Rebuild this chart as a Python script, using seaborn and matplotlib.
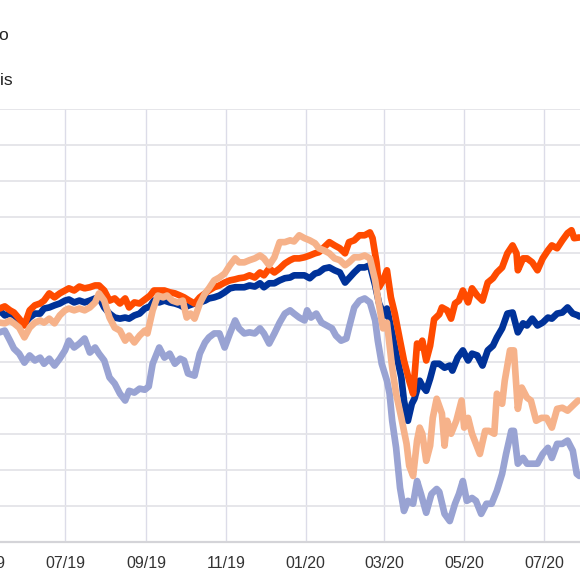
import matplotlib
matplotlib.use("Agg")
import matplotlib.pyplot as plt
import matplotlib.dates as mdates
import seaborn as sns
import pandas as pd
import numpy as np

# ---- data (index level; days counted from 2019-05-12) ----
start_date = "2019-05-12"

red_days = [0, 4, 8, 11, 15, 19, 23, 27, 31, 34, 38, 42, 46, 50, 53, 57, 61, 65, 69, 73, 76, 80, 84, 88, 92, 96, 99, 103, 107, 111, 115, 118, 122, 126, 130, 134, 138, 141, 145, 149, 153, 157, 160, 164, 168, 172, 176, 180, 183, 187, 191, 195, 199, 202, 206, 210, 214, 218, 222, 225, 229, 233, 237, 241, 244, 248, 252, 256, 260, 264, 267, 271, 275, 279, 283, 285, 288, 290, 293, 296, 299, 302, 306, 309, 313, 316, 319, 321, 323, 326, 329, 332, 336, 338, 342, 345, 348, 351, 354, 358, 361, 365, 369, 373, 377, 380, 384, 388, 392, 395, 396, 400, 403, 407, 411, 415, 419, 422, 426, 430, 434, 437, 439, 443]
red_vals = [104.7, 105.3, 104.2, 103.6, 101.9, 100.0, 104.2, 105.6, 106.1, 106.9, 108.9, 107.8, 108.9, 109.7, 110.3, 109.7, 110.8, 110.3, 110.6, 111.1, 111.1, 109.7, 106.9, 107.5, 106.1, 107.5, 105.0, 106.4, 106.1, 107.2, 108.3, 109.7, 109.7, 109.7, 109.2, 108.9, 108.3, 107.8, 106.9, 106.1, 107.8, 108.9, 109.7, 110.6, 111.1, 111.9, 112.5, 112.8, 113.1, 113.3, 113.9, 113.3, 114.7, 113.9, 115.8, 114.7, 115.8, 117.2, 118.1, 118.6, 118.6, 118.9, 119.4, 120.0, 120.3, 121.7, 123.1, 122.2, 121.4, 120.0, 123.1, 123.6, 125.0, 125.0, 125.8, 124.2, 117.5, 110.6, 112.5, 115.3, 107.8, 103.3, 95.8, 90.3, 84.7, 81.1, 95.0, 93.9, 95.8, 90.3, 94.4, 101.7, 103.1, 105.0, 104.2, 101.9, 106.1, 106.9, 109.7, 106.4, 110.3, 108.3, 106.9, 111.9, 113.1, 114.7, 116.1, 120.0, 122.2, 120.0, 115.3, 118.6, 118.6, 117.5, 115.3, 118.6, 120.8, 122.2, 121.4, 123.6, 125.6, 126.4, 124.2, 124.4]

blue_days = [0, 4, 8, 11, 15, 19, 23, 27, 31, 34, 38, 42, 46, 50, 53, 57, 61, 65, 69, 73, 76, 80, 84, 88, 92, 96, 99, 103, 107, 111, 115, 118, 122, 126, 130, 134, 138, 141, 145, 149, 153, 157, 160, 164, 168, 172, 176, 180, 183, 187, 191, 195, 199, 202, 206, 210, 214, 218, 222, 225, 229, 233, 237, 241, 244, 248, 252, 256, 260, 264, 267, 271, 275, 279, 283, 287, 290, 294, 296, 300, 303, 307, 309, 312, 315, 317, 321, 323, 326, 329, 332, 336, 340, 344, 346, 350, 354, 358, 361, 365, 369, 373, 377, 380, 384, 388, 392, 396, 400, 403, 407, 411, 415, 419, 422, 426, 430, 434, 438, 442, 443]
blue_vals = [104.2, 102.8, 103.3, 102.8, 101.4, 100.6, 102.2, 103.3, 103.3, 104.7, 105.0, 105.6, 106.1, 106.9, 107.2, 106.4, 106.9, 106.4, 106.9, 107.5, 107.8, 105.0, 103.3, 102.2, 101.9, 102.2, 101.9, 102.8, 103.3, 104.7, 105.3, 106.9, 106.4, 106.9, 106.4, 106.1, 105.6, 105.0, 105.6, 106.1, 106.4, 106.9, 107.5, 107.8, 108.3, 109.2, 110.3, 110.6, 110.6, 110.6, 111.1, 110.8, 111.7, 110.6, 111.7, 111.7, 112.5, 113.1, 113.3, 113.9, 113.9, 113.9, 113.1, 114.4, 114.7, 115.8, 116.1, 115.3, 114.7, 111.9, 113.1, 114.7, 116.1, 116.1, 116.7, 111.1, 106.1, 102.8, 104.7, 97.8, 92.2, 85.6, 79.2, 73.6, 78.3, 79.7, 84.7, 83.3, 81.9, 85.3, 89.4, 89.4, 88.3, 88.9, 87.5, 91.1, 93.1, 90.3, 92.2, 91.7, 88.9, 93.1, 94.4, 96.7, 99.2, 103.3, 103.6, 98.1, 100.6, 100.0, 101.9, 100.0, 100.8, 102.2, 101.9, 103.3, 103.6, 105.0, 103.3, 102.8, 102.5]

peach_days = [0, 4, 8, 11, 15, 19, 23, 27, 31, 34, 38, 42, 46, 50, 53, 57, 61, 65, 69, 73, 76, 80, 84, 88, 92, 96, 99, 103, 107, 111, 113, 117, 121, 125, 128, 132, 136, 140, 143, 146, 149, 153, 157, 160, 164, 168, 172, 176, 180, 183, 187, 191, 195, 199, 202, 206, 210, 214, 218, 222, 225, 229, 233, 237, 241, 244, 248, 252, 256, 260, 264, 267, 271, 275, 279, 283, 287, 289, 293, 296, 300, 303, 307, 311, 313, 316, 319, 321, 323, 326, 329, 331, 334, 338, 340, 342, 345, 349, 353, 355, 358, 361, 367, 371, 374, 378, 380, 384, 386, 390, 393, 396, 399, 403, 406, 410, 414, 418, 422, 426, 430, 434, 438, 442]
peach_vals = [100.8, 100.6, 101.4, 100.6, 99.4, 96.7, 99.4, 100.8, 101.4, 100.8, 101.9, 100.6, 102.8, 104.2, 104.7, 104.2, 104.7, 104.2, 105.0, 106.4, 108.9, 106.9, 102.2, 99.4, 98.6, 95.8, 97.2, 95.3, 97.2, 98.6, 97.8, 104.2, 108.3, 107.8, 108.3, 106.9, 106.4, 106.9, 102.2, 103.3, 101.9, 106.1, 108.9, 110.3, 112.5, 113.3, 114.4, 116.7, 118.6, 117.5, 117.5, 118.1, 118.6, 119.4, 118.6, 116.7, 118.9, 123.1, 123.1, 123.6, 123.3, 125.0, 124.2, 123.6, 122.8, 121.4, 120.8, 120.0, 118.6, 118.1, 116.7, 117.5, 118.9, 118.9, 119.4, 118.6, 112.5, 107.8, 99.2, 100.8, 88.3, 81.1, 74.4, 67.2, 61.1, 58.3, 68.1, 71.7, 70.0, 62.5, 66.7, 74.4, 79.7, 75.6, 66.7, 73.6, 70.0, 73.6, 79.2, 71.7, 74.4, 70.0, 64.4, 70.8, 70.8, 70.0, 81.1, 78.3, 84.7, 93.1, 93.1, 76.9, 82.8, 80.0, 79.2, 73.6, 74.4, 74.4, 71.7, 76.9, 77.2, 76.4, 77.8, 79.2]

lilac_days = [0, 4, 8, 11, 15, 19, 23, 27, 31, 34, 38, 42, 46, 50, 53, 57, 61, 65, 69, 73, 76, 80, 84, 88, 92, 96, 99, 103, 107, 111, 114, 117, 122, 126, 130, 134, 138, 141, 144, 149, 153, 157, 160, 164, 168, 172, 176, 180, 183, 187, 191, 195, 199, 202, 206, 210, 214, 218, 222, 225, 229, 233, 235, 238, 242, 246, 250, 254, 257, 261, 265, 267, 271, 275, 279, 283, 287, 289, 292, 296, 298, 300, 303, 306, 309, 312, 316, 319, 322, 326, 330, 334, 336, 340, 344, 348, 351, 354, 357, 361, 364, 368, 372, 376, 380, 384, 387, 391, 393, 396, 400, 403, 407, 411, 415, 419, 422, 426, 430, 434, 438, 441, 443]
lilac_vals = [98.1, 98.6, 95.8, 93.6, 92.2, 89.7, 91.7, 90.3, 91.1, 89.4, 90.8, 88.9, 90.8, 93.1, 95.8, 93.9, 95.0, 96.4, 92.5, 93.9, 92.2, 90.3, 85.6, 83.9, 81.1, 79.2, 81.9, 81.4, 82.5, 82.2, 83.1, 89.4, 93.9, 91.1, 92.2, 89.4, 90.8, 90.3, 86.7, 86.1, 92.2, 95.3, 96.7, 97.8, 97.8, 93.9, 97.8, 101.4, 99.2, 97.8, 98.1, 97.8, 99.2, 97.8, 95.0, 97.8, 100.8, 103.3, 104.2, 103.3, 102.2, 101.4, 104.2, 102.2, 103.3, 100.8, 100.0, 99.2, 97.2, 95.8, 96.4, 99.4, 105.0, 106.9, 107.5, 106.4, 101.4, 95.8, 89.4, 84.7, 81.1, 73.6, 66.1, 55.0, 48.6, 51.4, 50.6, 56.9, 53.3, 48.1, 53.3, 54.7, 53.9, 47.8, 45.8, 50.6, 53.3, 56.9, 51.4, 52.2, 51.4, 47.8, 50.6, 50.6, 54.2, 58.9, 64.4, 70.8, 70.8, 61.7, 63.3, 61.7, 61.7, 61.7, 64.4, 66.1, 63.3, 67.2, 67.2, 68.1, 65.3, 58.9, 58.3]

legend_labels = ["Euro", "Paris"]
tick_format = "%m/%y"

# ---- styling ----
sns.set_style("white")
plt.rcParams["font.family"] = ["Liberation Sans", "DejaVu Sans"]

W = H = 580
fig = plt.figure(figsize=(5.8, 5.8), dpi=100)
ax_left_px, ax_right_px = -40, 580
ax_top_px, ax_bottom_px = 109, 542
ax = fig.add_axes([ax_left_px / W, (H - ax_bottom_px) / H,
                   (ax_right_px - ax_left_px) / W, (ax_bottom_px - ax_top_px) / H])

base = pd.Timestamp(start_date)

def frame(days, vals):
    return pd.DataFrame({"date": base + pd.to_timedelta(np.array(days), unit="D"),
                         "value": vals})

series = [
    (lilac_days, lilac_vals, "#99a3d3"),
    (blue_days, blue_vals, "#003299"),
    (red_days, red_vals, "#ff4b00"),
    (peach_days, peach_vals, "#f6b28a"),
]
for d, v, c in series:
    sns.lineplot(data=frame(d, v), x="date", y="value", ax=ax, color=c,
                 linewidth=4.8, estimator=None, sort=False, zorder=3)

ax.set_xlim(pd.Timestamp("2019-04-11 19:00"), pd.Timestamp("2020-07-28 12:00"))
ax.set_ylim(40, 160)
ax.set_yticks(np.arange(40, 161, 10))
ax.xaxis.set_major_locator(mdates.MonthLocator(bymonth=[1, 3, 5, 7, 9, 11]))
ax.xaxis.set_major_formatter(mdates.DateFormatter(tick_format))

ax.grid(axis="y", color="#e4e4e8", linewidth=1.3, zorder=0)
ax.grid(axis="x", color="#dcdce8", linewidth=1.0, zorder=0)
ax.set_axisbelow(True)
for s in ["left", "right", "top"]:
    ax.spines[s].set_visible(False)
ax.spines["bottom"].set_color("#d4d4d8")
ax.spines["bottom"].set_linewidth(1.6)
ax.tick_params(axis="x", length=0, pad=10, labelsize=11.5, labelcolor="#333333")
ax.tick_params(axis="y", length=0, labelleft=False)
ax.set_xlabel("")
ax.set_ylabel("")

fig.text(9.5 / W, 1 - 35 / H, legend_labels[0], ha="right", va="center",
         fontsize=12.5, color="#222222")
fig.text(13 / W, 1 - 80 / H, legend_labels[1], ha="right", va="center",
         fontsize=12.5, color="#222222")

fig.savefig("out.png", dpi=100)
